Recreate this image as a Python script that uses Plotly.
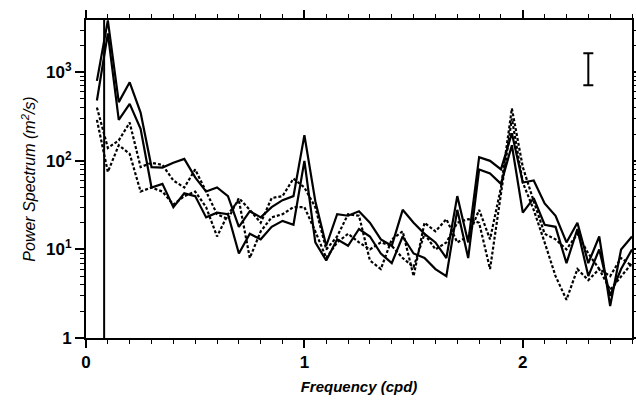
import plotly.graph_objects as go

# frequency grid (cpd)
freq = [0.05, 0.10, 0.15, 0.20, 0.25, 0.30, 0.35, 0.40, 0.45, 0.50,
        0.55, 0.60, 0.65, 0.70, 0.75, 0.80, 0.85, 0.90, 0.95, 1.00,
        1.05, 1.10, 1.15, 1.20, 1.25, 1.30, 1.35, 1.40, 1.45, 1.50,
        1.55, 1.60, 1.65, 1.70, 1.75, 1.80, 1.85, 1.90, 1.95, 2.00,
        2.05, 2.10, 2.15, 2.20, 2.25, 2.30, 2.35, 2.40, 2.45, 2.50]

solid_a = [800, 3850, 460, 770, 350, 85, 84, 95, 105, 65,
           45, 50, 40, 18, 27, 23, 30, 36, 40, 195,
           35, 11, 25, 24, 27, 20, 13, 11, 28, 20,
           15, 12, 8, 40, 12, 110, 100, 80, 205, 57,
           60, 33, 24, 12, 20, 7, 14, 2.3, 10, 14]

solid_b = [480, 2750, 290, 440, 230, 50, 55, 30, 43, 40,
           23, 26, 25, 9, 15, 13, 18, 21, 19, 100,
           12, 7.5, 13, 11, 17, 14, 9, 7, 14, 9,
           8, 6, 5, 28, 8, 80, 72, 55, 150, 26,
           38, 19, 18, 7, 17, 5, 10, 3, 6, 10]

dash_c = [400, 140, 170, 270, 85, 95, 90, 60, 50, 80,
          45, 25, 22, 38, 28, 20, 38, 40, 63, 50,
          30, 10, 14, 25, 24, 7.5, 6, 13, 16, 5,
          20, 16, 22, 12, 14, 28, 13, 50, 390, 85,
          35, 15, 13, 10, 15, 9, 6, 5, 8, 6.5]

dash_d = [290, 75, 150, 120, 45, 50, 45, 32, 40, 45,
          30, 14, 25, 36, 8, 16, 23, 25, 30, 30,
          16, 8, 12, 15, 12, 10, 12, 11, 8, 6.3,
          15, 10, 12, 20, 22, 20, 6, 40, 300, 57,
          28, 12, 5, 2.7, 6, 4.5, 6, 3.5, 5, 7]

vline_f = 0.083
errbar_f = 2.3
errbar_low = 713
errbar_high = 1640
errbar_mid = 1080

x_ticks = [0, 1, 2]
x_ticktext = ["0", "1", "2"]
y_ticks = [1, 10, 100, 1000]
y_ticktext = ["1", "10<sup>1</sup>", "10<sup>2</sup>", "10<sup>3</sup>"]
y_minor = [m * d for d in (1, 10, 100, 1000) for m in range(2, 10)]

fig = go.Figure()

for vals, dash in ((solid_a, "solid"), (solid_b, "solid"),
                   (dash_c, "3px,2px"), (dash_d, "3px,2px")):
    fig.add_trace(go.Scatter(x=freq, y=vals, mode="lines",
                             line=dict(color="black", width=2.2, dash=dash),
                             showlegend=False, hoverinfo="skip"))

fig.add_vline(x=vline_f, line=dict(color="black", width=2))

fig.add_trace(go.Scatter(
    x=[errbar_f], y=[errbar_mid], mode="markers",
    marker=dict(size=0.1, color="black"),
    error_y=dict(type="data", symmetric=False,
                 array=[errbar_high - errbar_mid],
                 arrayminus=[errbar_mid - errbar_low],
                 color="black", thickness=2, width=5),
    showlegend=False, hoverinfo="skip"))

font_family = "Liberation Sans, Arial, sans-serif"
tick_font = dict(family=font_family, size=17, color="black")

fig.update_layout(
    width=636, height=402,
    margin=dict(l=86, r=4, t=20, b=64),
    paper_bgcolor="white", plot_bgcolor="white",
    xaxis=dict(
        range=[0, 2.5], tickvals=x_ticks,
        ticktext=["<b>" + t + "</b>" for t in x_ticktext],
        ticks="outside", ticklen=8, tickwidth=1.5, tickcolor="black",
        showline=True, linecolor="black", linewidth=2, mirror="ticks",
        showgrid=False, zeroline=False, tickfont=tick_font, automargin=False,
        minor=dict(dtick=0.1, tick0=0, ticks="outside", ticklen=4, tickwidth=1.2,
                   tickcolor="black", showgrid=False),
        title=dict(text="<b><i>Frequency (cpd)</i></b>", standoff=10,
                   font=dict(family=font_family, size=15, color="black")),
    ),
    yaxis=dict(
        type="log", range=[0, 3.59], tickvals=y_ticks,
        ticktext=["<b>" + t + "</b>" for t in y_ticktext],
        ticks="outside", ticklen=9, tickwidth=1.5, tickcolor="black",
        showline=True, linecolor="black", linewidth=2, mirror="ticks",
        showgrid=False, zeroline=False, tickfont=tick_font, automargin=False,
        minor=dict(tickvals=y_minor, ticks="outside", ticklen=4, tickwidth=1.2,
                   tickcolor="black", showgrid=False),
        title=dict(text="<i>Power Spectrum (m<sup>2</sup>/s)</i>", standoff=6,
                   font=dict(family=font_family, size=16, color="black")),
    ),
)

fig.write_html("out.html", config={"displayModeBar": False},
               post_script="document.body.style.margin='0px';")
